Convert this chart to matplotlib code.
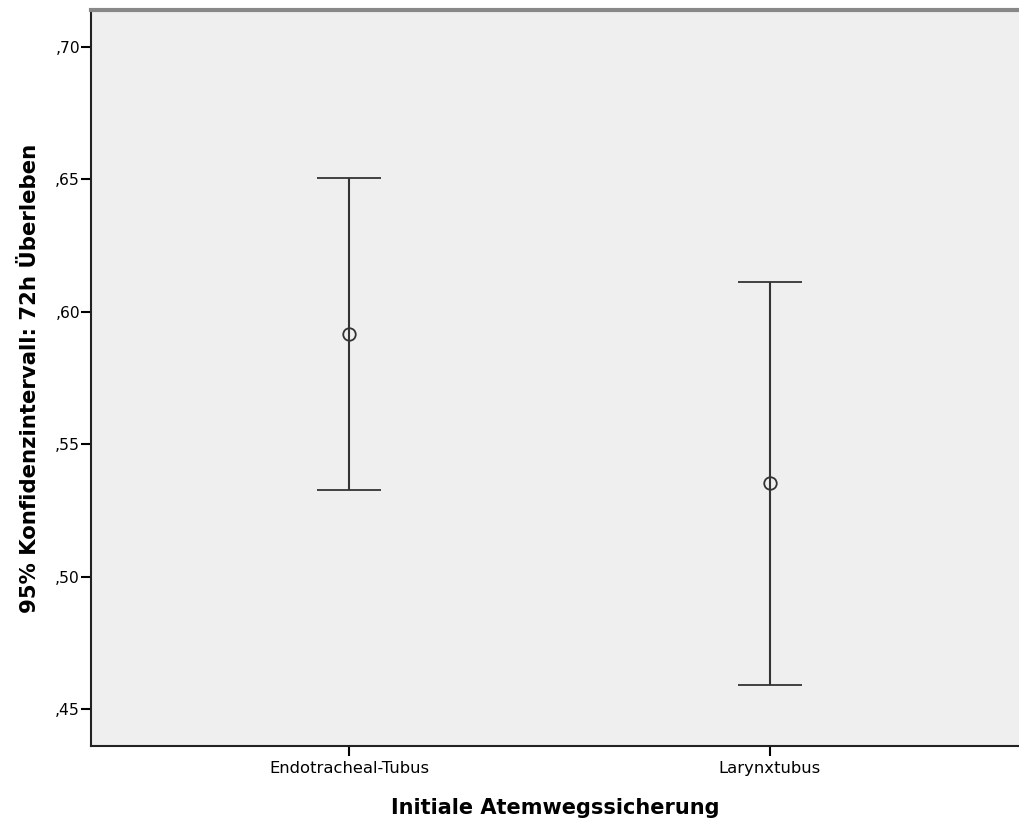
import matplotlib
matplotlib.use("Agg")
import matplotlib.pyplot as plt
from matplotlib.ticker import FuncFormatter

categories = ["Endotracheal-Tubus", "Larynxtubus"]
means = [0.5916, 0.5353]
lower = [0.5327, 0.4591]
upper = [0.6507, 0.6113]
yticks = [0.45, 0.50, 0.55, 0.60, 0.65, 0.70]

plt.rcParams['font.family'] = ['DejaVu Sans']

fig = plt.figure(figsize=(10.2, 8.23), dpi=100)
ax = fig.add_axes([91/1020, 1-746/823, 1-91/1020, (746-10)/823])
ax.set_facecolor('#efefef')

x = list(range(len(categories)))
yerr = [[m - l for m, l in zip(means, lower)], [u - m for u, m in zip(upper, means)]]
ax.errorbar(x, means, yerr=yerr, fmt='o', mfc='none', mec='#333333', mew=1.3,
            ms=9, ecolor='#333333', elinewidth=1.5, capsize=23, capthick=1.8,
            color='#333333')

ax.set_xlim(-0.613, 1.594)
ax.set_ylim(0.436, 0.714)
ax.set_xticks(x)
ax.set_xticklabels(categories, fontsize=11.8)
ax.set_yticks(yticks)
ax.yaxis.set_major_formatter(FuncFormatter(lambda v, p: (",%02d" % round(v*100))))
ax.tick_params(axis='y', labelsize=11.2, length=7, width=1.5, direction='out', pad=1)
ax.tick_params(axis='x', length=7, width=1.5, direction='out', pad=4)

for s in ['left', 'bottom']:
    ax.spines[s].set_color('#222222')
    ax.spines[s].set_linewidth(1.5)
ax.spines['top'].set_color('#888888')
ax.spines['top'].set_linewidth(3)
ax.spines['right'].set_visible(False)

ax.set_xlabel("Initiale Atemwegssicherung", fontsize=15, fontweight='bold', labelpad=16)
ax.set_ylabel("95% Konfidenzintervall: 72h Überleben", fontsize=15.3, fontweight='bold', labelpad=11)

fig.savefig("out.png", dpi=100)
